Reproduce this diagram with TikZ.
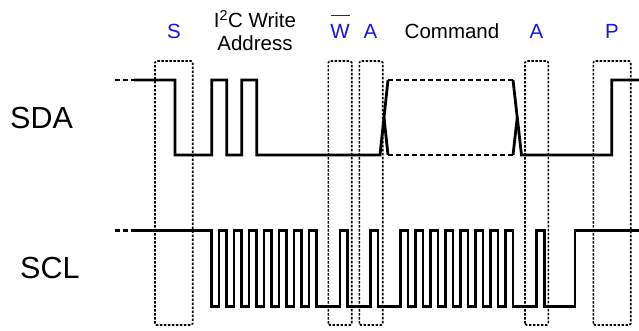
\documentclass[tikz,border=0pt]{standalone}
\usepackage{fontspec}
\setmainfont{Liberation Sans}
\definecolor{lblblue}{RGB}{20,20,235}
\begin{document}
\begin{tikzpicture}[x=1pt,y=-1pt,
  sig/.style={line width=2.8pt,line join=miter,line cap=butt},
  sigdash/.style={line width=2.8pt,dash pattern=on 5pt off 3pt},
  winbox/.style={line width=1.6pt,dash pattern=on 2.4pt off 1.6pt,rounded corners=1.5pt},
  bluelbl/.style={text=lblblue,font=\fontsize{20.5}{24}\selectfont,anchor=base,inner sep=0pt},
  blklbl/.style={font=\fontsize{20.5}{24}\selectfont,anchor=base,inner sep=0pt},
  siglbl/.style={font=\fontsize{30.5}{34}\selectfont,anchor=base west,inner sep=0pt}]
\useasboundingbox (0,0) rectangle (639,331);

% signal names
\node[siglbl] (sda) at (10,128.3) {SDA};
\node[siglbl] (scl) at (20,278.3) {SCL};

% labels
\node[bluelbl] (lS) at (174,38.5) {S};
\node[blklbl] (lAddr1) at (255,28) {I\textsuperscript{2}C Write};
\node[blklbl] (lAddr2) at (255,51) {Address};
\node[bluelbl] (lW) at (340,38.5) {W};
\draw[lblblue,line width=1.4pt] (330.5,15.5) -- (349.5,15.5);
\node[bluelbl] (lA1) at (370.5,38.5) {A};
\node[blklbl] (lCmd) at (452,38.5) {Command};
\node[bluelbl] (lA2) at (536.5,38.5) {A};
\node[bluelbl] (lP) at (612,38.5) {P};

% windows
\draw[winbox] (155,325) rectangle (192.7,61);
\draw[winbox] (328.3,325) rectangle (351.7,61);
\draw[winbox] (359.3,325) rectangle (382.7,61);
\draw[winbox] (525,325) rectangle (548.3,61);
\draw[winbox] (593.3,325) rectangle (630.7,61);

% SDA
\def\hi{80}\def\lo{155}
\draw[sigdash] (115,\hi) -- (135,\hi);
\draw[sig] (134,\hi) -- (175,\hi) -- (175,\lo) -- (211.7,\lo) -- (211.7,\hi) -- (226.7,\hi)
  -- (226.7,\lo) -- (241.7,\lo) -- (241.7,\hi) -- (256.7,\hi) -- (256.7,\lo) -- (380,\lo)
  -- (388,\hi);
\draw[sig] (384,117.5) -- (388,\lo);
\draw[sigdash] (388,\hi) -- (513,\hi);
\draw[sigdash] (388,\lo) -- (513,\lo);
\draw[sig] (513,\hi) -- (521.5,\lo) -- (611.7,\lo) -- (611.7,\hi) -- (639,\hi);
\draw[sig] (513,\lo) -- (517.25,117.5);

% SCL
\def\chi{230.7}\def\clo{306.7}
\draw[sigdash] (115,\chi) -- (135,\chi);
\draw[sig] (134,\chi) -- (211.5,\chi) -- (211.5,\clo)
  foreach \k in {0,...,6} { -- ({219+15*\k},\clo) -- ({219+15*\k},\chi) -- ({226.5+15*\k},\chi) -- ({226.5+15*\k},\clo) }
  -- (340,\clo) -- (340,\chi) -- (347.5,\chi) -- (347.5,\clo)
  -- (370.5,\clo) -- (370.5,\chi) -- (378,\chi) -- (378,\clo)
  foreach \k in {0,...,7} { -- ({400.5+15*\k},\clo) -- ({400.5+15*\k},\chi) -- ({408+15*\k},\chi) -- ({408+15*\k},\clo) }
  -- (536.7,\clo) -- (536.7,\chi) -- (544.5,\chi) -- (544.5,\clo)
  -- (575,\clo) -- (575,\chi) -- (639,\chi);
\end{tikzpicture}
\end{document}
